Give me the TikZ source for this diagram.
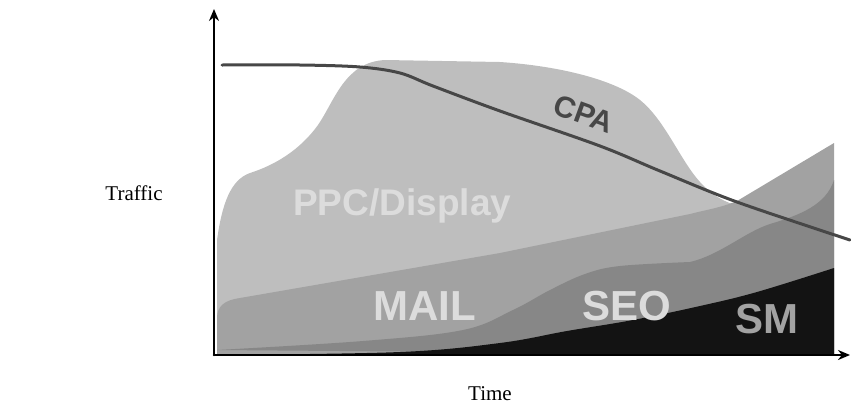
\documentclass[tikz,border=0pt]{standalone}
\usepackage{fontspec}
\setmainfont{Liberation Serif}
\setsansfont{Liberation Sans}
\usetikzlibrary{arrows.meta}

\definecolor{ppcfill}{HTML}{BEBEBE}
\definecolor{mailfill}{HTML}{A2A2A2}
\definecolor{seofill}{HTML}{878787}
\definecolor{smfill}{HTML}{131313}
\definecolor{cpaline}{HTML}{474747}
\definecolor{labeltext}{HTML}{DCDCDC}

\begin{document}
\begin{tikzpicture}[x=1pt,y=-1pt,line cap=round,line join=round,
    area label/.style={font=\sffamily\bfseries\fontsize{42}{42}\selectfont,
      text=labeltext,inner sep=0pt,anchor=base west},
    axis label/.style={font=\fontsize{21}{21}\selectfont,inner sep=0pt}]
  \useasboundingbox (0,0) rectangle (851,408);

  % Stacked traffic areas, back to front.
  \fill[ppcfill] (217,355) -- (217,240)
    .. controls (222,205) and (230,180) .. (250,173)
    .. controls (275,165) and (300,150) .. (318,125)
    .. controls (335,100) and (345,62) .. (385,60)
    -- (500,62) .. controls (560,66) and (615,80) .. (640,100)
    .. controls (665,120) and (680,160) .. (700,182)
    .. controls (712,195) and (725,203) .. (740,206) -- (740,355) -- cycle;
  \fill[mailfill] (217,355) -- (217,318)
    .. controls (217,306) and (225,300) .. (240,298)
    -- (500,253) -- (690,214)
    .. controls (705,210) and (720,208) .. (737,201)
    -- (834,143) -- (834,355) -- cycle;
  \fill[seofill] (217,355) -- (217,350)
    plot[smooth,tension=0.6] coordinates {(217,350) (363,341) (463,330)
      (513,310) (550,290) (585,274) (620,266) (690,262)}
    .. controls (720,255) and (745,232) .. (770,224)
    .. controls (800,215) and (826,205) .. (834,180) -- (834,355) -- cycle;
  \fill[smfill] (217,355)
    plot[smooth,tension=0.6] coordinates {(217,355) (400,352) (500,343)
      (567,331) (633,320) (700,306) (757,292) (834,268)}
    -- (834,355) -- cycle;

  % CPA curve.
  \draw[cpaline,line width=3pt] plot[smooth,tension=0.55] coordinates {
    (222,65) (300,65) (360,67) (400,73) (433,86) (500,111) (600,146)
    (660,171) (737,202) (850,240)};

  % Axes.
  \draw[line width=2.6pt,-{Stealth[length=12pt,width=10pt]}] (214,355) -- (214,9);
  \draw[line width=2.6pt,-{Stealth[length=12pt,width=10pt]}] (214,355) -- (850,355);

  % Labels.
  \node[area label,font=\sffamily\bfseries\fontsize{37}{37}\selectfont] (ppc) at (293,215) {PPC/Display};
  \node[area label] (mail) at (373,320) {MAIL};
  \node[area label] (seo) at (582,320) {SEO};
  \node[area label,text=mailfill] (sm) at (735,333) {SM};
  \node[font=\sffamily\bfseries\fontsize{30}{30}\selectfont,text=cpaline,
    rotate=-20,inner sep=0pt] (cpa) at (584,114) {CPA};
  \node[axis label] (traffic) at (134,193) {Traffic};
  \node[axis label,anchor=base] (time) at (490,400) {Time};
\end{tikzpicture}
\end{document}
